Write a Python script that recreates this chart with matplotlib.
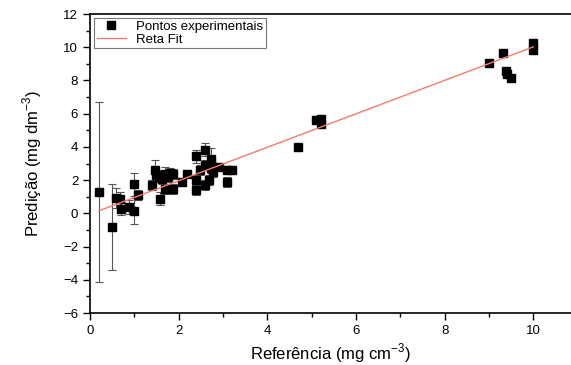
import numpy as np
import matplotlib.pyplot as plt
from matplotlib.ticker import MultipleLocator

plt.rcParams['font.family'] = ['Liberation Sans', 'DejaVu Sans']
plt.rcParams['mathtext.fontset'] = 'custom'
plt.rcParams['mathtext.rm'] = 'Liberation Sans'

# referencia (x), predicao (y), erro (yerr)
ref = [0.20, 0.49, 0.58, 0.68, 0.70, 0.89, 0.99, 0.99, 1.09,
       1.39, 1.47, 1.49, 1.55, 1.58, 1.62, 1.69, 1.69, 1.77, 1.80, 1.88, 1.88,
       2.08, 2.19, 2.39, 2.39, 2.39, 2.48, 2.60, 2.60, 2.60, 2.69,
       2.72, 2.72, 2.72, 2.78, 2.90, 3.08, 3.08, 3.21,
       4.70, 5.10, 5.21, 5.21,
       9.00, 9.31, 9.39, 9.41, 9.50, 10.0, 10.0]
pred = [1.28, -0.82, 0.94, 0.88, 0.28, 0.38, 1.75, 0.14, 1.08,
        1.73, 2.59, 2.29, 2.20, 0.88, 2.09, 2.39, 1.49, 2.19, 2.45, 2.39, 1.49,
        1.89, 2.39, 3.43, 2.03, 1.39, 2.63, 3.84, 2.89, 1.69, 1.99,
        3.25, 3.00, 2.75, 2.49, 2.79, 2.63, 1.89, 2.63,
        3.99, 5.60, 5.70, 5.40,
        9.08, 9.68, 8.57, 8.37, 8.17, 10.28, 9.82]
erro = [5.4, 2.6, 0.6, 0.4, 0.4, 0.4, 0.7, 0.8, 0.3,
        0.3, 0.6, 0.3, 0.3, 0.4, 0.3, 0.4, 0.3, 0.3, 0.3, 0.3, 0.3,
        0.2, 0.2, 0.4, 0.3, 0.3, 0.3, 0.4, 0.3, 0.3, 0.3,
        0.7, 0.3, 0.3, 0.3, 0.2, 0.2, 0.3, 0.2,
        0.0, 0.0, 0.0, 0.0,
        0.0, 0.0, 0.0, 0.0, 0.0, 0.0, 0.0]

# reta de ajuste
slope, intercept = 1.007, -0.05
fit_x = [0.2, 10.0]

fig = plt.figure(figsize=(5.71, 3.65), dpi=100)
ax = fig.add_axes([90/571, 1 - 313/365, 1 - 90/571, (313 - 14)/365])

ax.errorbar(ref, pred, yerr=erro, fmt='none', ecolor='#555555', elinewidth=0.8,
            capsize=3, capthick=0.8, zorder=2)
ax.plot(ref, pred, 's', color='black', markersize=6, linestyle='none',
        label='Pontos experimentais', zorder=3)
ax.plot(fit_x, [slope * v + intercept for v in fit_x], color='#f47c6a',
        linewidth=1.0, label='Reta Fit', zorder=4)

ax.set_xlim(0, 10.85)
ax.set_ylim(-6, 12)
ax.xaxis.set_major_locator(MultipleLocator(2))
ax.xaxis.set_minor_locator(MultipleLocator(1))
ax.yaxis.set_major_locator(MultipleLocator(2))
ax.yaxis.set_minor_locator(MultipleLocator(1))
ax.tick_params(which='both', direction='out', labelsize=9.5, top=False, right=False)
ax.tick_params(which='major', length=5, width=1)
ax.tick_params(which='minor', length=3, width=1)
for s in ['left', 'bottom', 'top']:
    ax.spines[s].set_linewidth(1.2)
ax.spines['right'].set_visible(False)

ax.set_xlabel('Referência (mg cm$^{-3}$)', fontsize=12, labelpad=3)
ax.set_ylabel('Predição (mg dm$^{-3}$)', fontsize=12, labelpad=14)

leg = ax.legend(loc='upper left', fontsize=9.5, frameon=True, fancybox=False,
                edgecolor='#555555', borderpad=0.2, handlelength=2.2,
                labelspacing=0.05, borderaxespad=0.3, numpoints=1)
leg.get_frame().set_linewidth(0.8)

fig.savefig('out.png', dpi=100)
